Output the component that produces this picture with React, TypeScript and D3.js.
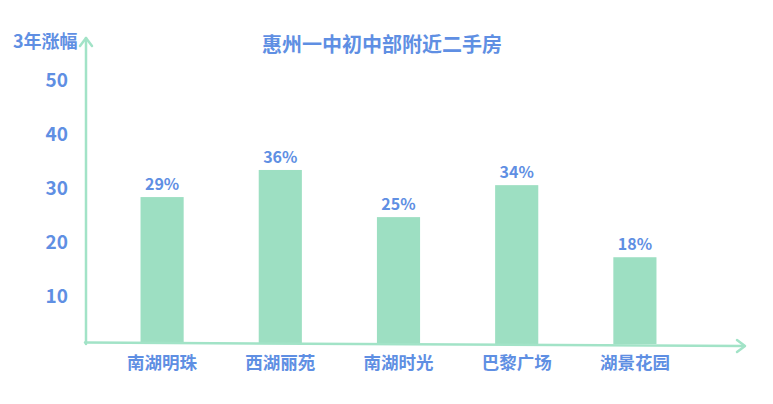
import { useEffect, useRef } from 'react';
import * as d3 from 'd3';

const categories = ['南湖明珠', '西湖丽苑', '南湖时光', '巴黎广场', '湖景花园'];
const barValues = [28.4, 33.4, 24.7, 30.6, 17.3];
const valueLabels = ['29%', '36%', '25%', '34%', '18%'];
const yTicks = [10, 20, 30, 40, 50];
const chartTitle = '惠州一中初中部附近二手房';
const yTitle = '3年涨幅';

const BLUE = '#5f8fe3';
const GREEN = '#9ddfc2';
const AXIS = '#a2e3c7';
const FONT = '"Noto Sans CJK SC", "Noto Sans", sans-serif';

export default function App() {
  const svgRef = useRef<SVGSVGElement>(null);

  useEffect(() => {
    if (!svgRef.current) return;
    const svg = d3.select(svgRef.current);
    svg.selectAll('*').remove();

    const width = 773;
    const height = 404;

    // Scales
    const xScale = d3.scaleBand<string>()
      .domain(categories)
      .range([103, 694])
      .paddingInner(0.635)
      .paddingOuter(0.3175);

    const yScale = d3.scaleLinear()
      .domain([0, 50])
      .range([351, 80]);

    const baseY = 344;

    svg.attr('width', width).attr('height', height);

    // Title
    svg.append('text')
      .attr('x', 382)
      .attr('y', 45)
      .attr('dy', '0.35em')
      .attr('text-anchor', 'middle')
      .attr('font-family', FONT)
      .attr('font-size', 20)
      .attr('font-weight', 'bold')
      .attr('fill', BLUE)
      .text(chartTitle);

    // Y axis title
    svg.append('text')
      .attr('x', 13)
      .attr('y', 42)
      .attr('dy', '0.35em')
      .attr('font-family', FONT)
      .attr('font-size', 18)
      .attr('font-weight', 'bold')
      .attr('fill', BLUE)
      .text(yTitle);

    // Y tick labels
    svg.selectAll('.y-tick')
      .data(yTicks)
      .enter()
      .append('text')
      .attr('class', 'y-tick')
      .attr('x', 68)
      .attr('y', d => yScale(d))
      .attr('dy', '0.35em')
      .attr('text-anchor', 'end')
      .attr('font-family', FONT)
      .attr('font-size', 19)
      .attr('font-weight', 'bold')
      .attr('fill', BLUE)
      .text(d => d);

    // Bars
    svg.selectAll('.bar')
      .data(barValues)
      .enter()
      .append('rect')
      .attr('class', 'bar')
      .attr('x', (_, i) => xScale(categories[i]) as number)
      .attr('y', d => yScale(d))
      .attr('width', xScale.bandwidth())
      .attr('height', d => baseY - yScale(d))
      .attr('fill', GREEN);

    // Value labels
    svg.selectAll('.value-label')
      .data(barValues)
      .enter()
      .append('text')
      .attr('class', 'value-label')
      .attr('x', (_, i) => (xScale(categories[i]) as number) + xScale.bandwidth() / 2)
      .attr('y', d => yScale(d) - 13)
      .attr('dy', '0.35em')
      .attr('text-anchor', 'middle')
      .attr('font-family', FONT)
      .attr('font-size', 16)
      .attr('font-weight', 'bold')
      .attr('fill', BLUE)
      .text((_, i) => valueLabels[i]);

    // Category labels
    svg.selectAll('.cat-label')
      .data(categories)
      .enter()
      .append('text')
      .attr('class', 'cat-label')
      .attr('x', d => (xScale(d) as number) + xScale.bandwidth() / 2)
      .attr('y', 363)
      .attr('dy', '0.35em')
      .attr('text-anchor', 'middle')
      .attr('font-family', FONT)
      .attr('font-size', 17.5)
      .attr('font-weight', 'bold')
      .attr('fill', BLUE)
      .text(d => d);

    // Axes with arrow heads
    const axes = svg.append('g')
      .attr('fill', 'none')
      .attr('stroke', AXIS)
      .attr('stroke-width', 2.5)
      .attr('stroke-linecap', 'round')
      .attr('stroke-linejoin', 'round');

    axes.append('path').attr('d', 'M86,344 L86,38');
    axes.append('path').attr('d', 'M80,46 L86,38 L92,46');
    axes.append('path').attr('d', 'M85,342.5 L744,346');
    axes.append('path').attr('d', 'M737,340 L745,346 L737,352');
  }, []);

  return (
    <div style={{ position: 'absolute', left: 0, top: 0, background: '#fff' }}>
      <svg ref={svgRef} width={773} height={404} style={{ display: 'block' }} />
    </div>
  );
}
